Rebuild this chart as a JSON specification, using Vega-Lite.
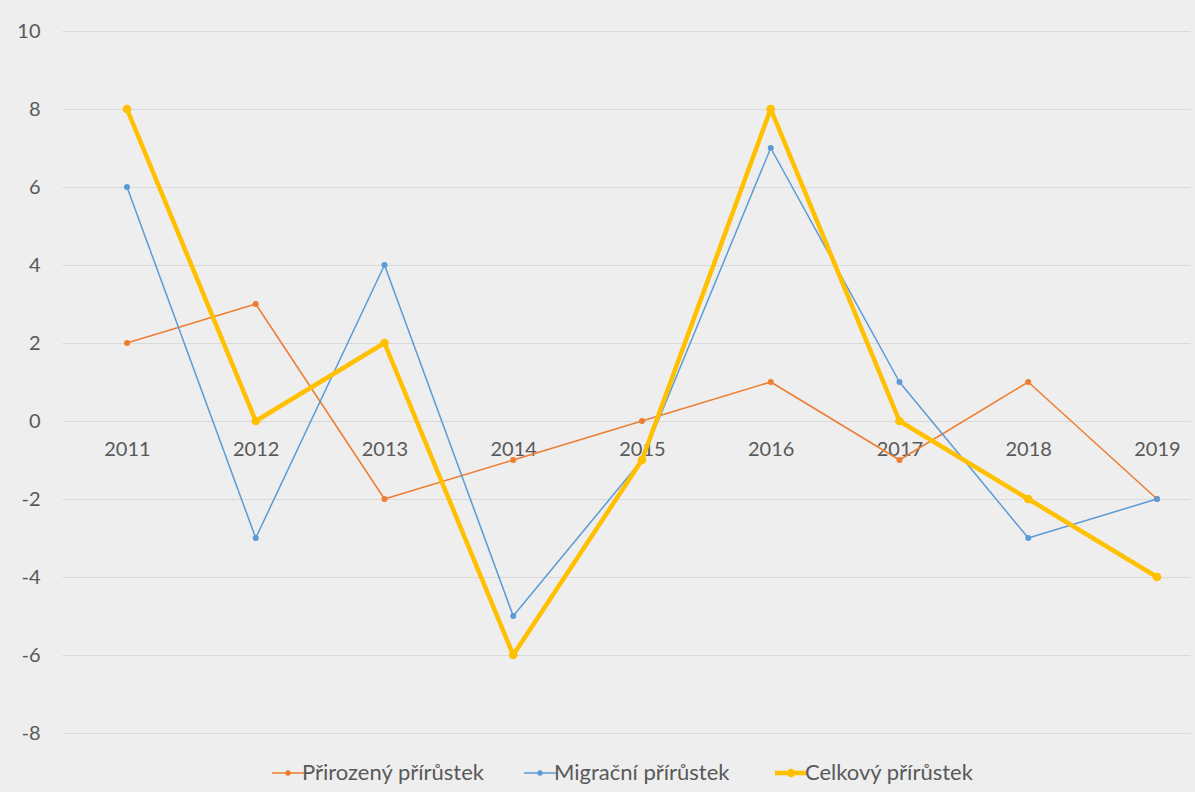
{
  "$schema": "https://vega.github.io/schema/vega-lite/v6.json",
  "width": 1128,
  "height": 702,
  "autosize": {"type": "none"},
  "padding": {"left": 62, "top": 31, "right": 5, "bottom": 59},
  "background": "#eeeeee",
  "config": {"view": {"stroke": null}, "font": "Lato"},
  "data": {
    "values": [
      {"rok": "2011", "rada": "Přirozený přírůstek", "hodnota": 2},
      {"rok": "2012", "rada": "Přirozený přírůstek", "hodnota": 3},
      {"rok": "2013", "rada": "Přirozený přírůstek", "hodnota": -2},
      {"rok": "2014", "rada": "Přirozený přírůstek", "hodnota": -1},
      {"rok": "2015", "rada": "Přirozený přírůstek", "hodnota": 0},
      {"rok": "2016", "rada": "Přirozený přírůstek", "hodnota": 1},
      {"rok": "2017", "rada": "Přirozený přírůstek", "hodnota": -1},
      {"rok": "2018", "rada": "Přirozený přírůstek", "hodnota": 1},
      {"rok": "2019", "rada": "Přirozený přírůstek", "hodnota": -2},
      {"rok": "2011", "rada": "Migrační přírůstek", "hodnota": 6},
      {"rok": "2012", "rada": "Migrační přírůstek", "hodnota": -3},
      {"rok": "2013", "rada": "Migrační přírůstek", "hodnota": 4},
      {"rok": "2014", "rada": "Migrační přírůstek", "hodnota": -5},
      {"rok": "2015", "rada": "Migrační přírůstek", "hodnota": -1},
      {"rok": "2016", "rada": "Migrační přírůstek", "hodnota": 7},
      {"rok": "2017", "rada": "Migrační přírůstek", "hodnota": 1},
      {"rok": "2018", "rada": "Migrační přírůstek", "hodnota": -3},
      {"rok": "2019", "rada": "Migrační přírůstek", "hodnota": -2},
      {"rok": "2011", "rada": "Celkový přírůstek", "hodnota": 8},
      {"rok": "2012", "rada": "Celkový přírůstek", "hodnota": 0},
      {"rok": "2013", "rada": "Celkový přírůstek", "hodnota": 2},
      {"rok": "2014", "rada": "Celkový přírůstek", "hodnota": -6},
      {"rok": "2015", "rada": "Celkový přírůstek", "hodnota": -1},
      {"rok": "2016", "rada": "Celkový přírůstek", "hodnota": 8},
      {"rok": "2017", "rada": "Celkový přírůstek", "hodnota": 0},
      {"rok": "2018", "rada": "Celkový přírůstek", "hodnota": -2},
      {"rok": "2019", "rada": "Celkový přírůstek", "hodnota": -4}
    ]
  },
  "encoding": {
    "x": {
      "field": "rok",
      "type": "ordinal",
      "scale": {"type": "point", "padding": 0.3806, "align": 0.663},
      "axis": {
        "title": null,
        "orient": "bottom",
        "offset": -312,
        "domain": false,
        "ticks": false,
        "grid": false,
        "labelAngle": 0,
        "labelFontSize": 20,
        "labelColor": "#595959",
        "labelPadding": 18
      }
    },
    "y": {
      "field": "hodnota",
      "type": "quantitative",
      "scale": {"domain": [-8, 10], "nice": false, "zero": false},
      "axis": {
        "title": null,
        "values": [-8, -6, -4, -2, 0, 2, 4, 6, 8, 10],
        "labelExpr": "replace(datum.label, '−', '-')",
        "domain": false,
        "ticks": false,
        "grid": true,
        "gridColor": "#d9d9d9",
        "gridWidth": 1.2,
        "labelFontSize": 20,
        "labelColor": "#595959",
        "labelPadding": 22
      }
    },
    "color": {
      "field": "rada",
      "type": "nominal",
      "sort": ["Přirozený přírůstek", "Migrační přírůstek", "Celkový přírůstek"],
      "scale": {
        "domain": ["Přirozený přírůstek", "Migrační přírůstek", "Celkový přírůstek"],
        "range": ["#ED7D31", "#5B9BD5", "#FFC000"]
      },
      "legend": {
        "title": null,
        "orient": "none",
        "legendX": 215,
        "legendY": 731,
        "direction": "horizontal",
        "labelFontSize": 22,
        "labelLimit": 400,
        "labelColor": "#595959",
        "symbolType": "M-1,0H1M-0.12,0a0.12,0.12 0 1,0 0.24,0a0.12,0.12 0 1,0 -0.24,0",
        "symbolSize": 1024,
        "labelOffset": 3,
        "columnPadding": 36,
        "encode": {
          "symbols": {
            "update": {
              "strokeWidth": {"signal": "datum.label === 'Celkový přírůstek' ? 4.5 : 1.5"}
            }
          }
        }
      }
    }
  },
  "layer": [
    {
      "transform": [{"filter": "datum.rada !== 'Celkový přírůstek'"}],
      "mark": {"type": "line", "strokeJoin": "round", "strokeWidth": 1.5}
    },
    {
      "transform": [{"filter": "datum.rada !== 'Celkový přírůstek'"}],
      "mark": {"type": "point", "filled": true, "opacity": 1, "size": 36}
    },
    {
      "transform": [{"filter": "datum.rada === 'Celkový přírůstek'"}],
      "mark": {"type": "line", "strokeJoin": "round", "strokeWidth": 4.5}
    },
    {
      "transform": [{"filter": "datum.rada === 'Celkový přírůstek'"}],
      "mark": {"type": "point", "filled": true, "opacity": 1, "size": 75}
    }
  ]
}
